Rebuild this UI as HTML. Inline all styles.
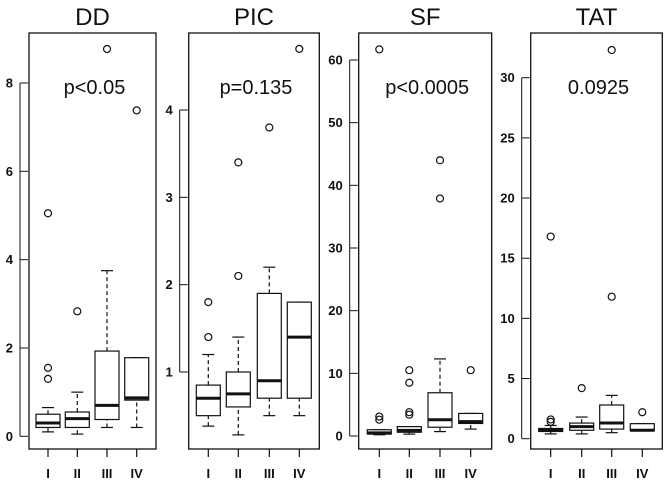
<!DOCTYPE html>
<html><head><meta charset="utf-8"><style>
html,body{margin:0;padding:0;background:#fff;}
svg{display:block;font-family:"Liberation Sans",sans-serif;}
</style></head><body>
<svg id="chart" width="669" height="487" viewBox="0 0 669 487"></svg>
<script>
const categories = ["I","II","III","IV"];
const panelTitles = ["DD","PIC","SF","TAT"];
const pLabels = ["p<0.05","p=0.135","p<0.0005","0.0925"];
// [whiskerLow, q1, median, q3, whiskerHigh]
const ddStats = [[0.1,0.2,0.3,0.5,0.65],[0.05,0.2,0.4,0.55,1.0],[0.2,0.38,0.7,1.93,3.75],[0.2,0.82,0.87,1.78,1.78]];
const ddOutliers = [[1.3,1.55,5.05],[2.83],[8.77],[7.38]];
const ddTicks = [0,2,4,6,8];
const picStats = [[0.38,0.5,0.7,0.85,1.2],[0.28,0.6,0.75,1.0,1.4],[0.5,0.7,0.9,1.9,2.2],[0.5,0.7,1.4,1.8,1.8]];
const picOutliers = [[1.4,1.8],[2.1,3.4],[3.8],[4.7]];
const picTicks = [1,2,3,4];
const sfStats = [[0.2,0.3,0.5,1.0,1.0],[0.3,0.6,0.9,1.5,1.5],[0.7,1.4,2.6,6.9,12.3],[1.1,2.0,2.3,3.6,3.6]];
const sfOutliers = [[2.6,3.1,61.7],[3.4,3.8,8.5,10.5],[37.9,44],[10.5]];
const sfTicks = [0,10,20,30,40,50,60];
const tatStats = [[0.4,0.6,0.7,0.85,1.1],[0.4,0.7,1.0,1.3,1.8],[0.5,0.8,1.3,2.8,3.6],[0.65,0.65,0.7,1.25,1.25]];
const tatOutliers = [[1.4,1.6,16.8],[4.2],[11.8,32.3],[2.2]];
const tatTicks = [0,5,10,15,20,25,30];

const panels = [
 {stats:ddStats,out:ddOutliers,ticks:ddTicks,x0:29,x1:156,v0:0,y0:436.3,v1:8,y1:83,gx:[48,77.3,107,136.7]},
 {stats:picStats,out:picOutliers,ticks:picTicks,x0:188.7,x1:319.3,v0:1,y0:372,v1:4,y1:110,gx:[208.3,238.3,269.3,299.3]},
 {stats:sfStats,out:sfOutliers,ticks:sfTicks,x0:358.7,x1:491.7,v0:0,y0:436,v1:60,y1:60,gx:[379.3,409.3,440,470.7]},
 {stats:tatStats,out:tatOutliers,ticks:tatTicks,x0:530.7,x1:662.3,v0:0,y0:438.7,v1:30,y1:77.7,gx:[550.7,581.7,611.7,642.3]}
];
const svg=document.getElementById('chart');
const NS="http://www.w3.org/2000/svg";
function mk(tag,attrs,parent){const e=document.createElementNS(NS,tag);for(const k in attrs)e.setAttribute(k,attrs[k]);parent.appendChild(e);return e;}
const TOP=33,BOT=449;
panels.forEach((p,pi)=>{
 const g=mk('g',{},svg);
 
 
 const y=v=>p.y0+(v-p.v0)*(p.y1-p.y0)/(p.v1-p.v0);
 const cx=(p.x0+p.x1)/2;
 const t=mk('text',{x:cx,y:25,'text-anchor':'middle','font-size':24,fill:'#111'},g);t.textContent=panelTitles[pi];
 
 
 const frame=mk('rect',{x:p.x0,y:TOP,width:p.x1-p.x0,height:BOT-TOP,fill:'none',stroke:'#111','stroke-width':1.3},g);
 
 
 const pt=mk('text',{x:cx+2,y:94,'text-anchor':'middle','font-size':20,fill:'#111'},g);pt.textContent=pLabels[pi];
 
 
 const ya=mk('g',{},g);
 
 
 const tv=p.ticks;
 mk('line',{x1:p.x0-9,x2:p.x0-9,y1:y(tv[0]),y2:y(tv[tv.length-1]),stroke:'#111','stroke-width':1},ya);
 tv.forEach(v=>{
  mk('line',{x1:p.x0-9,x2:p.x0-1,y1:y(v),y2:y(v),stroke:'#111','stroke-width':1},ya);
  const l=mk('text',{x:p.x0-16,y:y(v)+4.5,'text-anchor':'end','font-size':13,'font-weight':'bold',fill:'#111'},ya);l.textContent=v;
  
  
 });
 const xa=mk('g',{},g);
 
 
 p.gx.forEach((x,i)=>{
  mk('line',{x1:x,x2:x,y1:BOT,y2:BOT+8,stroke:'#111','stroke-width':1.2},xa);
  const l=mk('text',{x:x,y:478,'text-anchor':'middle','font-size':13,'font-weight':'bold',fill:'#111'},xa);l.textContent=categories[i];
  
  
 });
 p.stats.forEach((s,i)=>{
  const x=p.gx[i],bw=12,cw=6;
  const b=mk('g',{},g);
  
  
  mk('line',{x1:x,x2:x,y1:y(s[0]),y2:y(s[1]),stroke:'#111','stroke-width':1.2,'stroke-dasharray':'4,3'},b);
  mk('line',{x1:x,x2:x,y1:y(s[3]),y2:y(s[4]),stroke:'#111','stroke-width':1.2,'stroke-dasharray':'4,3'},b);
  mk('line',{x1:x-cw,x2:x+cw,y1:y(s[0]),y2:y(s[0]),stroke:'#111','stroke-width':1.2},b);
  mk('line',{x1:x-cw,x2:x+cw,y1:y(s[4]),y2:y(s[4]),stroke:'#111','stroke-width':1.2},b);
  mk('rect',{x:x-bw,y:y(s[3]),width:2*bw,height:Math.max(0.5,y(s[1])-y(s[3])),fill:'#fff',stroke:'#111','stroke-width':1.2},b);
  mk('line',{x1:x-bw,x2:x+bw,y1:y(s[2]),y2:y(s[2]),stroke:'#111','stroke-width':3},b);
  p.out[i].forEach(v=>{
   const c=mk('circle',{cx:x,cy:y(v),r:3.5,fill:'none',stroke:'#111','stroke-width':1.2},b);
   
   
  });
 });
});
</script>
</body></html>
